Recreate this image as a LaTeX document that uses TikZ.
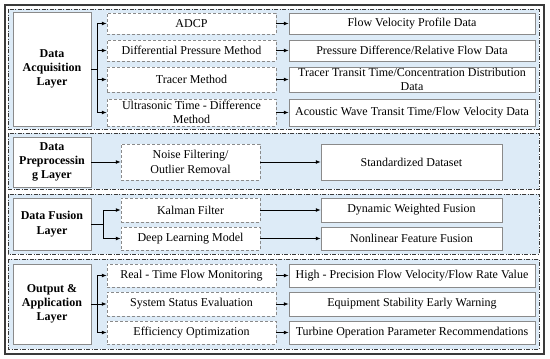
\documentclass[tikz,border=0pt]{standalone}
\usepackage{fontspec}
\setmainfont{Liberation Serif}
\usetikzlibrary{arrows.meta}
\definecolor{LayerBlue}{HTML}{DDEBF7}
\definecolor{BoxGray}{HTML}{8A8A8A}
\definecolor{FrameDark}{HTML}{3A3A3A}
\newcommand{\boxfont}{\fontsize{12}{14.3}\selectfont}

\begin{document}
\begin{tikzpicture}[
  x=1pt,y=-1pt,
  >=Latex,
  every node/.style={font=\boxfont,align=center,inner sep=0pt},
  layer/.style={draw=FrameDark,fill=LayerBlue,line width=0.7pt,
    dash pattern=on 4pt off 1.5pt on 1pt off 1.5pt},
  title/.style={draw=BoxGray,fill=white,font=\boxfont\bfseries,
    minimum width=78pt},
  method/.style={draw=BoxGray,fill=white,densely dashed,minimum width=169pt},
  result/.style={draw=BoxGray,fill=white,minimum width=246pt},
  wire/.style={line width=0.8pt,draw=black},
  link/.style={-{Latex[length=1.7mm,width=1.3mm]},line width=0.8pt,draw=black}
]
  \useasboundingbox (0,0) rectangle (550,359);
  \draw[line width=1.2pt,FrameDark] (5,5) rectangle (544,354);

  \path[layer] (8,9) rectangle (539,129);
  \path[layer] (8,133) rectangle (539,189);
  \path[layer] (8,194) rectangle (539,254);
  \path[layer] (8,259) rectangle (539,349);

  \node[title,minimum height=114pt] (acq) at (52,69) {Data\\Acquisition\\Layer};
  \node[method,minimum height=21pt] (adcp) at (191.5,23.5) {ADCP};
  \node[method,minimum height=21pt] (dpm) at (191.5,50.5) {Differential Pressure Method};
  \node[method,minimum height=25pt] (tracer) at (191.5,79.5) {Tracer Method};
  \node[method,minimum height=27pt] (ultra) at (191.5,112.5)
    {Ultrasonic Time - Difference\\Method};
  \node[result,minimum height=21pt] (profile) at (412,23.5) {Flow Velocity Profile Data};
  \node[result,minimum height=21pt] (pdiff) at (412,50.5)
    {Pressure Difference/Relative Flow Data};
  \node[result,minimum height=25pt] (transit) at (412,79.5)
    {Tracer Transit Time/Concentration Distribution\\Data};
  \node[result,minimum height=27pt] (acoustic) at (412,112.5)
    {Acoustic Wave Transit Time/Flow Velocity Data};

  \node[title,minimum height=50pt] (prep) at (52,162) {Data\\Preprocessin\\g Layer};
  \node[method,minimum width=139pt,minimum height=36pt] (noise) at (190.5,162)
    {Noise Filtering/\\Outlier Removal};
  \node[result,minimum width=181pt,minimum height=36pt] (stdset) at (411.5,162)
    {Standardized Dataset};

  \node[title,minimum height=52pt] (fus) at (52,224) {Data Fusion\\Layer};
  \node[method,minimum width=139pt,minimum height=24pt] (kalman) at (190.5,210)
    {Kalman Filter};
  \node[method,minimum width=139pt,minimum height=23pt] (deep) at (190.5,238.5)
    {Deep Learning Model};
  \node[result,minimum width=181pt,minimum height=24pt] (dwf) at (411.5,210)
    {Dynamic Weighted Fusion};
  \node[result,minimum width=181pt,minimum height=23pt] (nff) at (411.5,238.5)
    {Nonlinear Feature Fusion};

  \node[title,minimum height=80pt] (out) at (52,304) {Output \&\\Application\\Layer};
  \node[method,minimum height=23pt] (monitor) at (191.5,275.5) {Real - Time Flow Monitoring};
  \node[method,minimum height=24pt] (status) at (191.5,304) {System Status Evaluation};
  \node[method,minimum height=23pt] (effic) at (191.5,332.5) {Efficiency Optimization};
  \node[result,minimum height=23pt] (precise) at (412,275.5)
    {High - Precision Flow Velocity/Flow Rate Value};
  \node[result,minimum height=24pt] (warning) at (412,304)
    {Equipment Stability Early Warning};
  \node[result,minimum height=23pt] (turbine) at (412,332.5)
    {Turbine Operation Parameter Recommendations};

  \coordinate (acqJ) at (97,69);
  \coordinate (fusJ) at (103,224);
  \coordinate (outJ) at (97,304);
  \draw[wire] (acq.east) -- (acqJ);
  \draw[wire] (fus.east) -- (fusJ);
  \draw[wire] (out.east) -- (outJ);
  \foreach \m in {adcp,dpm,tracer,ultra}
    \draw[link] (acqJ) |- (\m.west);
  \foreach \m in {kalman,deep}
    \draw[link] (fusJ) |- (\m.west);
  \foreach \m in {monitor,status,effic}
    \draw[link] (outJ) |- (\m.west);
  \draw[link] (prep.east) -- (noise.west);
  \foreach \a/\b in {adcp/profile,dpm/pdiff,tracer/transit,ultra/acoustic,
      noise/stdset,kalman/dwf,deep/nff,monitor/precise,status/warning,effic/turbine}
    \draw[link] (\a.east) -- (\b.west);
\end{tikzpicture}
\end{document}
